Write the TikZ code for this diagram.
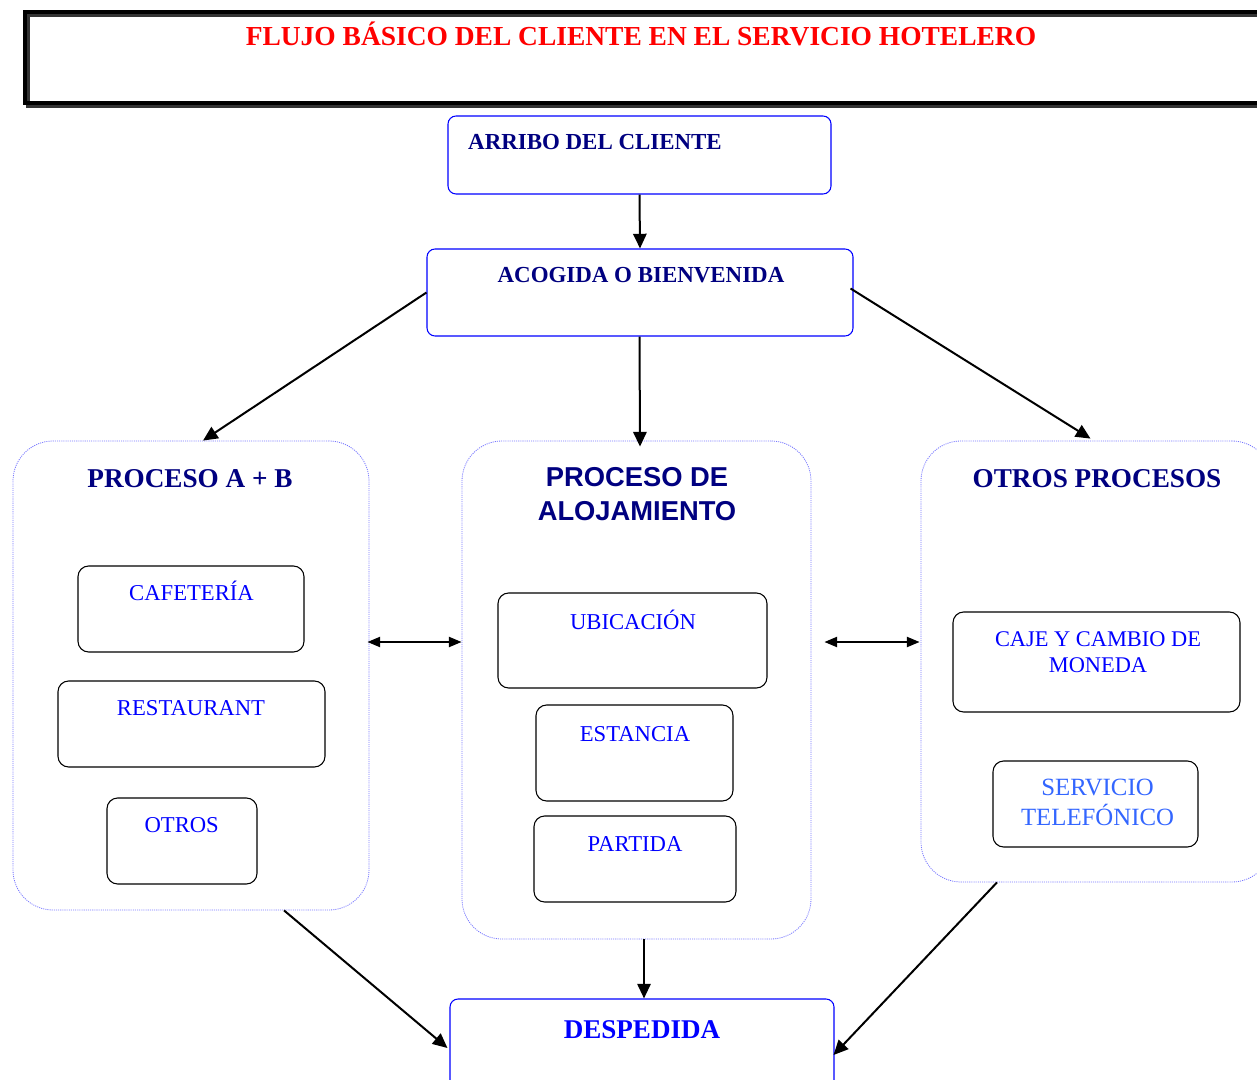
\documentclass[tikz,border=0pt]{standalone}
\usepackage{fontspec}
\setmainfont{Liberation Serif}
\newfontfamily\arialfont{Liberation Sans}
\usetikzlibrary{fit,arrows.meta,calc}
\definecolor{navy}{HTML}{000080}
\definecolor{pureblue}{HTML}{0000FF}
\definecolor{lightblue}{HTML}{3366FF}
\definecolor{dotblue}{HTML}{7777FF}
\definecolor{titlered}{HTML}{FF0000}
\newcommand\fsTitle{\fontsize{20.6}{24}\selectfont\bfseries}
\newcommand\fsHead{\fontsize{17.2}{20}\selectfont\bfseries}
\newcommand\fsGroup{\fontsize{20.4}{25.5}\selectfont\bfseries}
\newcommand\fsItem{\fontsize{17}{20}\selectfont}
\begin{document}
\begin{tikzpicture}[x=0.75pt,y=-0.75pt,
  bluebox/.style={draw=pureblue,line width=0.8pt,rounded corners=6pt,inner sep=0pt},
  itembox/.style={draw=black,line width=0.8pt,rounded corners=8pt,inner sep=0pt},
  groupbox/.style={draw=dotblue,line width=0.6pt,dash pattern=on 0.8pt off 0.8pt,rounded corners=30pt,inner sep=0pt},
  txt/.style={inner sep=0pt,anchor=base},
  flow/.style={line width=1.5pt,-{Triangle[length=11pt,width=10pt]}},
  twoway/.style={line width=1.5pt,{Triangle[length=9.5pt,width=7.5pt]}-{Triangle[length=9.5pt,width=7.5pt]}}]
\clip (0,0) rectangle (1257,1080);
\fill[white] (0,0) rectangle (1257,1080);

% title banner
\node[draw=black!80,line width=2.6pt,inner sep=0pt,fit={(28,15)(1290,106)}] (bannershadow) {};
\node[draw=black,line width=2.6pt,inner sep=0pt,fit={(25,12)(1290,103)}] (banner) {};
\node[txt,text=titlered] (bannerT) at (641,46) {\fsTitle FLUJO BÁSICO DEL CLIENTE EN EL SERVICIO HOTELERO};

% arrival and welcome
\node[bluebox,fit={(448,116)(831,194)}] (arribo) {};
\node[txt,text=navy] (arriboT) at (595,150) {\fsHead ARRIBO DEL CLIENTE};
\node[bluebox,fit={(427,249)(853,336)}] (acogida) {};
\node[txt,text=navy] (acogidaT) at (641,283) {\fsHead ACOGIDA O BIENVENIDA};

% group: food and beverage
\node[groupbox,fit={(13,441)(369,910)}] (procAB) {};
\node[txt,text=navy] (procABT) at (190,488) {\fsGroup PROCESO A + B};
\node[itembox,fit={(78,566)(304,652)}] (cafe) {};
\node[txt,text=pureblue] (cafeT) at (191.5,600) {\fsItem CAFETERÍA};
\node[itembox,fit={(58,681)(325,767)}] (rest) {};
\node[txt,text=pureblue] (restT) at (191,715) {\fsItem RESTAURANT};
\node[itembox,fit={(107,798)(257,884)}] (otros) {};
\node[txt,text=pureblue] (otrosT) at (181.7,832) {\fsItem OTROS};

% group: lodging
\node[groupbox,fit={(462,441)(811,939)}] (aloj) {};
\node[txt,text=navy,align=center,anchor=north,
  font={\arialfont\fontsize{20.5}{25.5}\selectfont\bfseries}] (alojT) at (637,467) {PROCESO DE\\ALOJAMIENTO};
\node[itembox,fit={(498,593)(767,688)}] (ubic) {};
\node[txt,text=pureblue] (ubicT) at (633,629) {\fsItem UBICACIÓN};
\node[itembox,fit={(536,705)(733,801)}] (estancia) {};
\node[txt,text=pureblue] (estanciaT) at (635,741) {\fsItem ESTANCIA};
\node[itembox,fit={(534,816)(736,902)}] (partida) {};
\node[txt,text=pureblue] (partidaT) at (635,851) {\fsItem PARTIDA};

% group: other services
\node[groupbox,fit={(921,441)(1272,882)}] (otrosP) {};
\node[txt,text=navy] (otrosPT) at (1097,488) {\fsGroup OTROS PROCESOS};
\node[itembox,fit={(953,612)(1240,712)}] (caje) {};
\node[txt,text=pureblue,align=center,anchor=north,
  font={\fontsize{16.8}{19.8}\selectfont}] (cajeT) at (1098,631) {CAJE Y CAMBIO DE\\MONEDA};
\node[itembox,fit={(993,761)(1198,847)}] (tel) {};
\node[txt,text=lightblue,align=center,anchor=north,
  font={\fontsize{18.6}{22}\selectfont}] (telT) at (1097.5,779) {SERVICIO\\TELEFÓNICO};

% farewell
\node[bluebox,fit={(450,999)(834,1100)}] (desp) {};
\node[txt,text=pureblue] (despT) at (642,1038) {\fontsize{20.3}{24}\selectfont\bfseries DESPEDIDA};

% connectors
\draw[flow] (arribo.south) -- (acogida.north);
\draw[flow] (acogida.west) -- ($(procAB.north)+(12,0)$);
\draw[flow] ($(acogida.east)+(-3,-4)$) -- ($(otrosP.north)+(-6,-2)$);
\draw[flow] ($(acogida.south)+(-0.5,0)$) -- ($(aloj.north)+(3.5,6)$);
\draw[twoway] ($(procAB.east)+(-2,-33.5)$) -- ($(aloj.west)+(0,-48)$);
\draw[twoway] ($(aloj.east)+(13,-48)$) -- ($(otrosP.west)+(-1,-19.5)$);
\draw[flow] ($(procAB.south)+(93,0)$) -- ($(desp.west)+(-2,-1.5)$);
\draw[flow] ($(aloj.south)+(7.5,0)$) -- ($(desp.north)+(2,0)$);
\draw[flow] ($(otrosP.south)+(-99.5,0)$) -- ($(desp.east)+(-1,5.5)$);
\end{tikzpicture}
\end{document}
